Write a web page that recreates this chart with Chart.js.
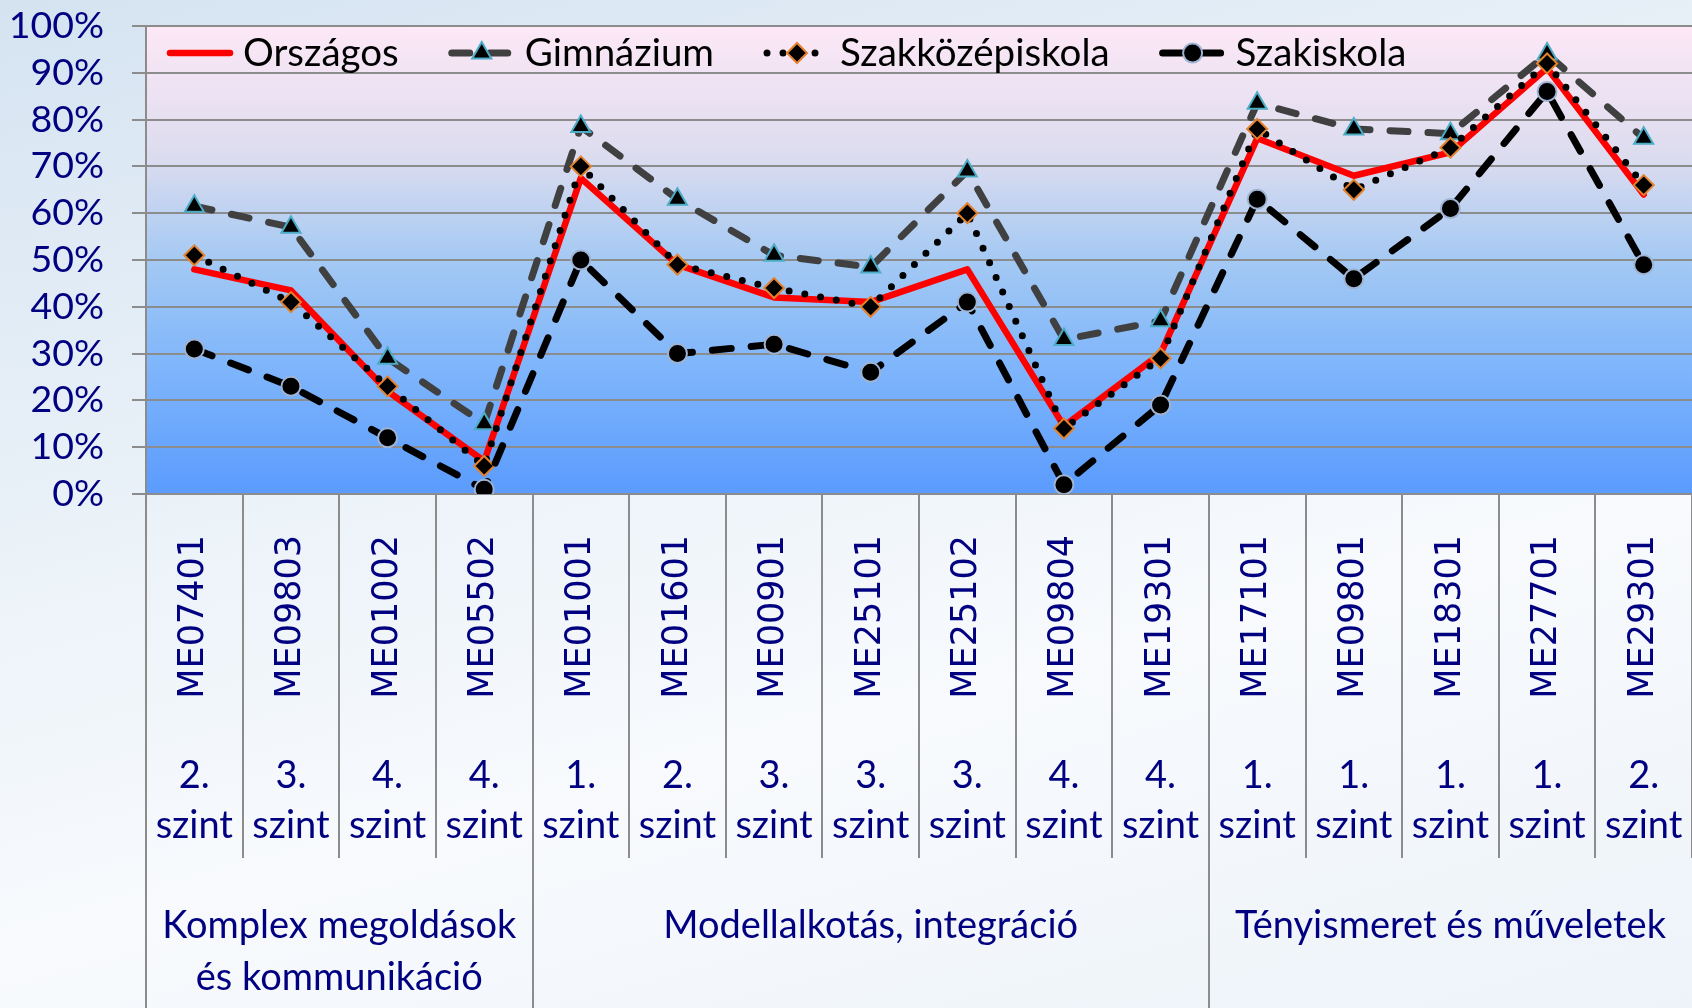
<!DOCTYPE html>
<html>
<head>
<meta charset="utf-8">
<script src="https://cdn.jsdelivr.net/npm/chart.js@4.4.0/dist/chart.umd.min.js"></script>
<style>
  html, body { margin: 0; padding: 0; overflow: hidden; }
  body {
    width: 1692px; height: 1008px;
    background: linear-gradient(165deg, #d5e3f1 0%, #e9f1f8 35%, #f8fafd 65%, #edf3f9 100%);
  }
  #wrap { position: relative; width: 1692px; height: 1008px; }
</style>
</head>
<body>
<div id="wrap"><canvas id="chart"></canvas></div>
<script>
// task codes on the x axis, with their level and group
var taskCodes = ['ME07401','ME09803','ME01002','ME05502','ME01001','ME01601','ME00901','ME25101',
                 'ME25102','ME09804','ME19301','ME17101','ME09801','ME18301','ME27701','ME29301'];
var levelLabels = ['2.','3.','4.','4.','1.','2.','3.','3.','3.','4.','4.','1.','1.','1.','1.','2.'];
var levelWord = 'szint';
var groupNames = [['Komplex megoldások', 'és kommunikáció'], ['Modellalkotás, integráció'], ['Tényismeret és műveletek']];
var groupSizes = [4, 7, 5];

// percentages per school type
var orszagos   = [48, 43.5, 22, 7, 67.5, 49, 42, 41, 48, 14.5, 30, 76, 68, 73, 91, 64];
var gimnazium  = [61.5, 57, 29, 15, 78.5, 63, 51, 48.5, 69, 33, 37, 83.5, 78, 77, 94, 76];
var szakkozep  = [51, 41, 23, 6, 70, 49, 44, 40, 60, 14, 29, 78, 65, 74, 92, 66];
var szakiskola = [31, 23, 12, 1, 50, 30, 32, 26, 41, 2, 19, 63, 46, 61, 86, 49];

var navy = '#000080';
var gridGray = '#8c8c8c';

var plotBg = {
  id: 'plotBg',
  beforeDraw: function(chart) {
    var a = chart.chartArea, ctx = chart.ctx;
    var g = ctx.createLinearGradient(0, a.top, 0, a.bottom);
    g.addColorStop(0, '#fde8f6');
    g.addColorStop(0.28, '#dcdcef');
    g.addColorStop(0.5, '#a4c9f3');
    g.addColorStop(0.72, '#80b6fb');
    g.addColorStop(1, '#5a9bfd');
    ctx.save();
    ctx.fillStyle = g;
    ctx.fillRect(a.left, a.top, a.right - a.left, a.bottom - a.top);
    ctx.restore();
  }
};

// level rows, group rows and separators below the x axis
var xRows = {
  id: 'xRows',
  afterDraw: function(chart) {
    var ctx = chart.ctx, x = chart.scales.x, a = chart.chartArea;
    var half = (x.getPixelForValue(1) - x.getPixelForValue(0)) / 2;
    ctx.save();
    ctx.strokeStyle = gridGray;
    ctx.lineWidth = 2;
    var groupEdges = [0];
    groupSizes.reduce(function(s, n) { groupEdges.push(s + n); return s + n; }, 0);
    for (var i = 0; i <= taskCodes.length; i++) {
      var bx = Math.round(x.getPixelForValue(i) - half);
      var isGroup = groupEdges.indexOf(i) >= 0 && i < taskCodes.length;
      ctx.beginPath();
      ctx.moveTo(bx, a.bottom);
      ctx.lineTo(bx, isGroup ? chart.height : a.bottom + 364);
      ctx.stroke();
    }
    ctx.fillStyle = navy;
    ctx.font = '38px Lato';
    ctx.textAlign = 'center';
    ctx.textBaseline = 'middle';
    for (var j = 0; j < taskCodes.length; j++) {
      var cx = x.getPixelForValue(j);
      ctx.fillText(levelLabels[j], cx, a.bottom + 282);
      ctx.fillText(levelWord, cx, a.bottom + 332);
    }
    var start = 0;
    groupNames.forEach(function(lines, gi) {
      var end = start + groupSizes[gi] - 1;
      var gx = (x.getPixelForValue(start) + x.getPixelForValue(end)) / 2;
      lines.forEach(function(t, li) {
        ctx.fillText(t, gx, a.bottom + 432 + li * 52);
      });
      start = end + 1;
    });
    ctx.restore();
  }
};

// legend drawn inside the plot, line sample with marker in the middle
var innerLegend = {
  id: 'innerLegend',
  afterDraw: function(chart) {
    var ctx = chart.ctx;
    var px = 167, py = 53, sample = 66;
    ctx.save();
    ctx.font = '38.5px Lato';
    ctx.textBaseline = 'middle';
    chart.data.datasets.forEach(function(ds) {
      ctx.save();
      ctx.strokeStyle = ds.borderColor;
      ctx.lineWidth = ds.borderWidth;
      ctx.lineCap = 'round';
      ctx.setLineDash(ds.borderDash || []);
      ctx.beginPath();
      ctx.moveTo(px + 3, py);
      ctx.lineTo(px + sample - 3, py);
      ctx.stroke();
      ctx.restore();
      if (ds.pointRadius > 0 && Chart.helpers && Chart.helpers.drawPoint) {
        ctx.save();
        ctx.fillStyle = ds.pointBackgroundColor;
        ctx.strokeStyle = ds.pointBorderColor;
        ctx.lineWidth = ds.pointBorderWidth;
        Chart.helpers.drawPoint(ctx, {pointStyle: ds.pointStyle, radius: ds.pointRadius, borderWidth: ds.pointBorderWidth, rotation: 0}, px + sample / 2, py);
        ctx.restore();
      }
      ctx.fillStyle = '#000';
      ctx.fillText(ds.label, px + sample + 10, py + 1);
      px += sample + 10 + ctx.measureText(ds.label).width + 50;
    });
    ctx.restore();
  }
};

new Chart(document.getElementById('chart'), {
  type: 'line',
  data: {
    labels: taskCodes,
    datasets: [
      {
        label: 'Országos', data: orszagos, order: 4,
        borderColor: '#ff0000', borderWidth: 6.5, borderCapStyle: 'round', borderJoinStyle: 'round',
        pointRadius: 0
      },
      {
        label: 'Gimnázium', data: gimnazium, order: 3,
        borderColor: '#404040', borderWidth: 7, borderDash: [18, 20], borderCapStyle: 'round',
        pointStyle: 'triangle', pointRadius: 11, pointBackgroundColor: '#000',
        pointBorderColor: '#4bacc6', pointBorderWidth: 2
      },
      {
        label: 'Szakközépiskola', data: szakkozep, order: 2,
        borderColor: '#000', borderWidth: 7, borderDash: [0, 16], borderCapStyle: 'round',
        pointStyle: 'rectRot', pointRadius: 10, pointBackgroundColor: '#000',
        pointBorderColor: '#e3812c', pointBorderWidth: 2
      },
      {
        label: 'Szakiskola', data: szakiskola, order: 1,
        borderColor: '#000', borderWidth: 7, borderDash: [19, 20], borderCapStyle: 'round',
        pointStyle: 'circle', pointRadius: 9.5, pointBackgroundColor: '#000',
        pointBorderColor: '#9fb3d3', pointBorderWidth: 2
      }
    ]
  },
  options: {
    responsive: true,
    maintainAspectRatio: false,
    animation: false,
    events: [],
    layout: { autoPadding: false, padding: { top: 26, left: 0, right: -5, bottom: 0 } },
    plugins: { legend: { display: false }, tooltip: { enabled: false } },
    scales: {
      x: {
        offset: true,
        grid: { display: true, drawOnChartArea: false, drawTicks: true, tickLength: 38, color: 'transparent' },
        border: { display: true, color: gridGray, width: 2 },
        ticks: {
          autoSkip: false, minRotation: 90, maxRotation: 90, padding: 3,
          color: navy, font: { family: 'DejaVu Sans', size: 35 }
        },
        afterFit: function(scale) {
          scale.height = 514;
          scale.paddingLeft = 0;
          scale.paddingRight = 0;
        }
      },
      y: {
        min: 0, max: 100,
        grid: { color: gridGray, lineWidth: 2, tickLength: 14 },
        border: { display: true, color: gridGray, width: 2 },
        ticks: {
          stepSize: 10, autoSkip: false, padding: 28, color: navy,
          font: { family: 'Lato', size: 37.5 },
          callback: function(v) { return v + '%'; }
        },
        afterFit: function(scale) {
          scale.width = 146;
          scale.paddingTop = 0;
          scale.paddingBottom = 0;
        }
      }
    }
  },
  plugins: [plotBg, xRows, innerLegend]
});
</script>
</body>
</html>
